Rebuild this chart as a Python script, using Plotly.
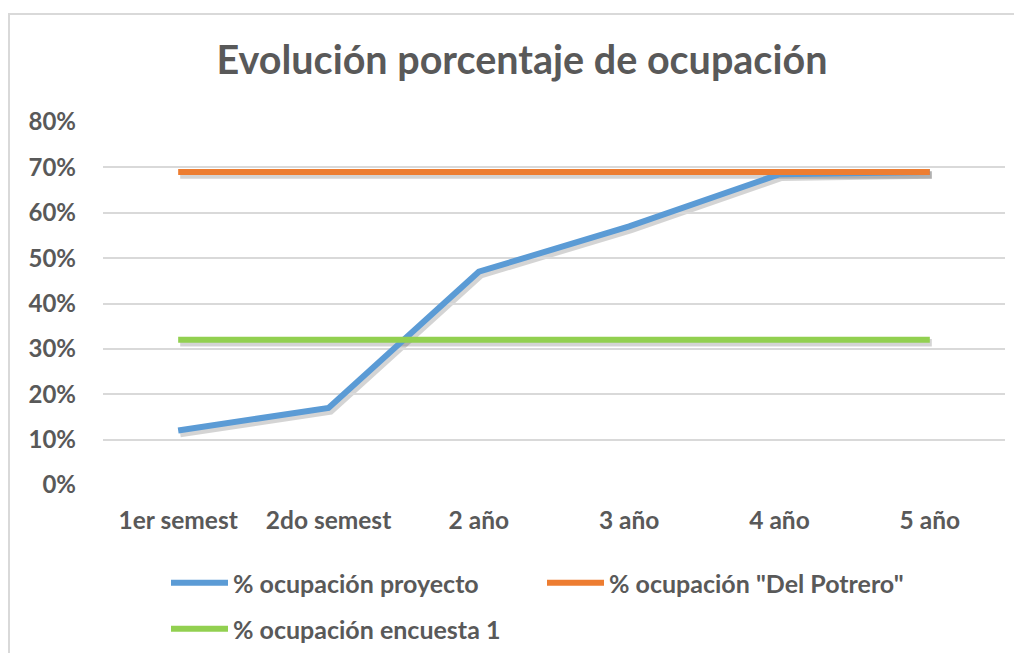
import plotly.graph_objects as go

categories = ["1er semest", "2do semest", "2 año", "3 año", "4 año", "5 año"]
proyecto = [0.12, 0.17, 0.47, 0.57, 0.685, 0.69]
potrero = [0.69, 0.69, 0.69, 0.69, 0.69, 0.69]
encuesta = [0.32, 0.32, 0.32, 0.32, 0.32, 0.32]

names = ["% ocupación proyecto", "% ocupación \"Del Potrero\"", "% ocupación encuesta 1"]
colors = ["#5B9BD5", "#ED7D31", "#92D050"]
series = [proyecto, potrero, encuesta]

OFF = 8  # page body margin
W, H = 1022 - OFF, 653 - OFF
PX0, PX1, PY0, PY1 = 103, 1005, 122, 485   # target plot area (screen px)
L, R, T, B = PX0 - OFF, 12, PY0 - OFF, 164 - OFF
pw, ph = W - L - R, H - T - B
FONT = "Lato"
GREY = "#595959"


def fx(px):
    return (px - OFF - L) / pw


def fy(py):
    return (H - B - (py - OFF)) / ph


SHX, SHY = 2, 3  # shadow offset (px)

fig = go.Figure()

# soft shadows (subplot x/y, shifted slightly)
for s in series:
    fig.add_trace(go.Scatter(x=categories, y=s, mode="lines", xaxis="x", yaxis="y",
                             line=dict(color="rgba(0,0,0,0.17)", width=7.5),
                             showlegend=False, hoverinfo="skip"))

legend_ids = ["legend", "legend2", "legend3"]
for i in [0, 2, 1]:
    fig.add_trace(go.Scatter(x=categories, y=series[i], mode="lines",
                             name="<b>" + names[i] + "</b>",
                             xaxis="x2", yaxis="y2",
                             line=dict(color=colors[i], width=6),
                             legend=legend_ids[i]))

leg_pos = [(166, 583), (542, 583), (166, 629)]
leg_common = dict(orientation="h", xanchor="left", yanchor="middle",
                  font=dict(size=25, color=GREY, family=FONT),
                  bgcolor="rgba(0,0,0,0)", itemwidth=57)

fig.update_layout(
    width=W, height=H,
    margin=dict(l=L, r=R, t=T, b=B, autoexpand=False),
    paper_bgcolor="white", plot_bgcolor="rgba(0,0,0,0)",
    font=dict(family=FONT, color=GREY),
    title=dict(text="<b>Evolución porcentaje de ocupación</b>", x=fx(522),
               xanchor="center", xref="paper", y=1 - (60 - OFF) / H, yanchor="middle",
               font=dict(size=39.5, color=GREY, family=FONT)),
    xaxis=dict(type="category", range=[-0.5, 5.5], visible=False,
               domain=[fx(PX0 + SHX), fx(PX1 + SHX)], anchor="y"),
    yaxis=dict(range=[0, 0.8], visible=False,
               domain=[fy(PY1 + SHY), fy(PY0 + SHY)], anchor="x"),
    xaxis2=dict(type="category", range=[-0.5, 5.5], showgrid=False, zeroline=False,
                showline=False, ticks="", ticklabelstandoff=18, automargin=False,
                tickfont=dict(size=24.5, color=GREY, family=FONT),
                tickprefix="<b>", ticksuffix="</b>",
                domain=[fx(PX0), fx(PX1)], anchor="y2"),
    yaxis2=dict(range=[0, 0.8], dtick=0.1, tickformat=".0%", showgrid=True,
                gridcolor="#D9D9D9", gridwidth=1.5, zeroline=False, showline=False,
                ticks="", ticklabelstandoff=26, automargin=False,
                tickfont=dict(size=24, color=GREY, family=FONT),
                tickprefix="<b>", ticksuffix="</b>",
                domain=[fy(PY1), fy(PY0)], anchor="x2"),
    legend=dict(x=fx(leg_pos[0][0]), y=fy(leg_pos[0][1]), **leg_common),
    legend2=dict(x=fx(leg_pos[1][0]), y=fy(leg_pos[1][1]), **leg_common),
    legend3=dict(x=fx(leg_pos[2][0]), y=fy(leg_pos[2][1]), **leg_common),
    showlegend=True,
)

fig.add_shape(type="rect", xref="paper", yref="paper",
              x0=fx(9), x1=fx(1021), y0=fy(700), y1=fy(14),
              line=dict(color="#D9D9D9", width=2), layer="below")

fig.write_html("out.html")
